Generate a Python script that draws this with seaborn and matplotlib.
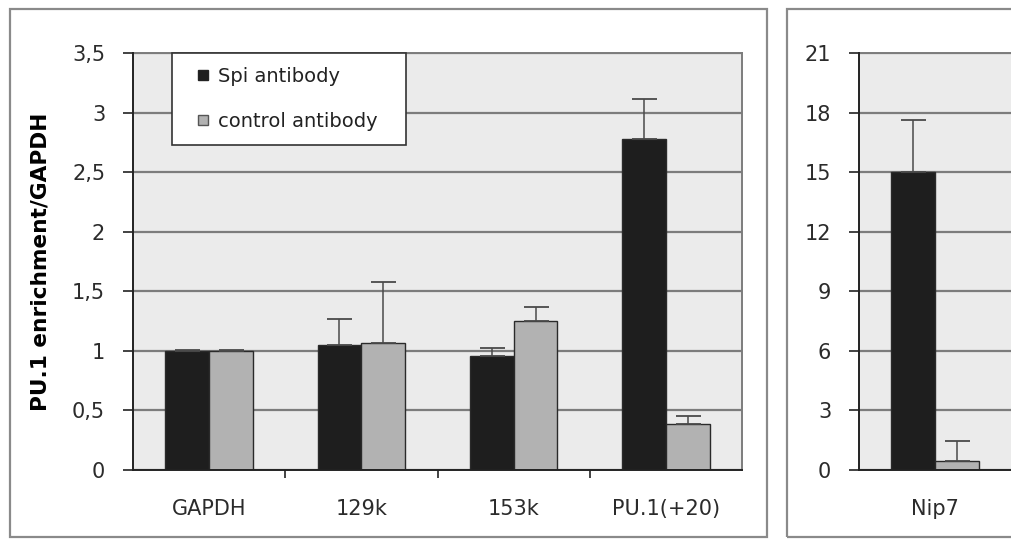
import matplotlib
matplotlib.use("Agg")
import matplotlib.pyplot as plt
from matplotlib.patches import Rectangle, Patch
from matplotlib.legend_handler import HandlerPatch
import seaborn as sns
import pandas as pd
import numpy as np

# ---- data ----
categories_left = ["GAPDH", "129k", "153k", "PU.1(+20)"]
spi_left = [1.0, 1.05, 0.96, 2.78]
spi_left_err = [0.005, 0.22, 0.06, 0.33]
ctrl_left = [1.0, 1.07, 1.25, 0.39]
ctrl_left_err = [0.005, 0.51, 0.12, 0.06]

categories_right = ["Nip7"]
spi_right = [15.0]
spi_right_err = [2.65]
ctrl_right = [0.47]
ctrl_right_err = [1.0]

series_names = ["Spi antibody", "control antibody"]
yticks_left = [0, 0.5, 1, 1.5, 2, 2.5, 3, 3.5]
yticklabels_left = ["0", "0,5", "1", "1,5", "2", "2,5", "3", "3,5"]
yticks_right = [0, 3, 6, 9, 12, 15, 18, 21]
yticklabels_right = ["0", "3", "6", "9", "12", "15", "18", "21"]
ylabel = "PU.1 enrichment/GAPDH"

colors = ["#1e1e1e", "#b2b2b2"]

W, H = 1011, 542
sns.set_theme(style="white")
plt.rcParams["font.family"] = ["DejaVu Sans"]

fig = plt.figure(figsize=(W / 100, H / 100), dpi=100)
fig.patch.set_facecolor("white")


def px_axes(x0, x1, ytop, ybot):
    return fig.add_axes([x0 / W, (H - ybot) / H, (x1 - x0) / W, (ybot - ytop) / H])


def make_df(cats, a, b):
    return pd.DataFrame({
        "target": cats * 2,
        "value": list(a) + list(b),
        "antibody": [series_names[0]] * len(cats) + [series_names[1]] * len(cats),
    })


def draw(ax, cats, a, aerr, b, berr, ylim, yt, ytl):
    df = make_df(cats, a, b)
    sns.barplot(data=df, x="target", y="value", hue="antibody", order=cats,
                hue_order=series_names, palette=colors, width=0.575, gap=0,
                edgecolor="#2a2a2a", linewidth=1.0, legend=False, ax=ax,
                errorbar=None, zorder=3)
    errs = [aerr, berr]
    for cont, err in zip(ax.containers, errs):
        xs = [p.get_x() + p.get_width() / 2 for p in cont.patches]
        ys = [p.get_height() for p in cont.patches]
        ax.errorbar(xs, ys, yerr=[np.zeros(len(err)), err], fmt="none",
                    ecolor="#4a4a4a", elinewidth=1.1, capsize=9, capthick=1.3,
                    zorder=4)
    ax.set_facecolor("#ebebeb")
    ax.set_xlim(-0.5, len(cats) - 0.5)
    ax.set_ylim(*ylim)
    ax.set_yticks(yt)
    ax.set_yticklabels(ytl)
    ax.yaxis.grid(True, color="#7c7c7c", linewidth=1.6, zorder=1)
    ax.set_axisbelow(True)
    ax.set_xlabel("")
    ax.set_ylabel("")
    ax.set_xticks(range(len(cats)))
    ax.set_xticklabels(cats)
    ax.set_xticks(np.arange(0.5, len(cats) - 0.5, 1.0), minor=True)
    ax.tick_params(axis="x", which="major", length=0, pad=21, labelsize=15,
                   labelcolor="#2b2b2b")
    ax.tick_params(axis="x", which="minor", length=6, width=1.2, color="#222",
                   direction="out", bottom=True)
    ax.tick_params(axis="y", which="major", length=7, width=1.2, color="#222",
                   direction="out", left=True, pad=13, labelsize=15,
                   labelcolor="#2b2b2b")
    for s in ["left", "bottom"]:
        ax.spines[s].set_color("#222222")
        ax.spines[s].set_linewidth(1.4)
        ax.spines[s].set_zorder(5)
    for s in ["top", "right"]:
        ax.spines[s].set_color("#7c7c7c")
        ax.spines[s].set_linewidth(1.4)


# outer panel frames
fig.patches.append(Rectangle((10 / W, (H - 537) / H), 757 / W, 528 / H,
                             transform=fig.transFigure, fill=False,
                             edgecolor="#8a8a8a", linewidth=1.6))
fig.patches.append(Rectangle((787 / W, (H - 537) / H), 240 / W, 528 / H,
                             transform=fig.transFigure, fill=False,
                             edgecolor="#8a8a8a", linewidth=1.6))

ax1 = px_axes(133, 742, 53, 470)
draw(ax1, categories_left, spi_left, spi_left_err, ctrl_left, ctrl_left_err,
     (0, 3.5), yticks_left, yticklabels_left)
ax1.set_ylabel(ylabel, fontsize=15.6, fontweight="bold", color="black")
ax1.yaxis.set_label_coords(-0.135, 0.5)

ax2 = px_axes(859, 1011, 53, 470)
draw(ax2, categories_right, spi_right, spi_right_err, ctrl_right, ctrl_right_err,
     (0, 21), yticks_right, yticklabels_right)
ax2.spines["right"].set_visible(False)


# legend with small square markers
def small_square(legend, orig_handle, xdescent, ydescent, width, height, fontsize):
    s = 7.0
    return Rectangle((width - s - xdescent, (height - s) / 2 - ydescent), s, s)


handles = [Patch(facecolor=colors[0], edgecolor="#222"),
           Patch(facecolor=colors[1], edgecolor="#555")]
x0 = (172 - 133) / 609
wlg = (406 - 172) / 609
leg = ax1.legend(handles, series_names, loc="upper left",
                 bbox_to_anchor=(x0, 0.0, wlg, 1.0), mode="expand",
                 borderaxespad=0, fontsize=14, frameon=True, fancybox=False,
                 framealpha=1.0, borderpad=0.7, labelspacing=1.36,
                 handlelength=1.15, handletextpad=0.5,
                 handler_map={Patch: HandlerPatch(patch_func=small_square)})
leg.get_frame().set_edgecolor("#333333")
leg.get_frame().set_linewidth(1.2)
leg.get_frame().set_facecolor("white")
leg.set_zorder(10)
for t in leg.get_texts():
    t.set_color("#222222")

fig.savefig("out.png", dpi=100, facecolor="white")
